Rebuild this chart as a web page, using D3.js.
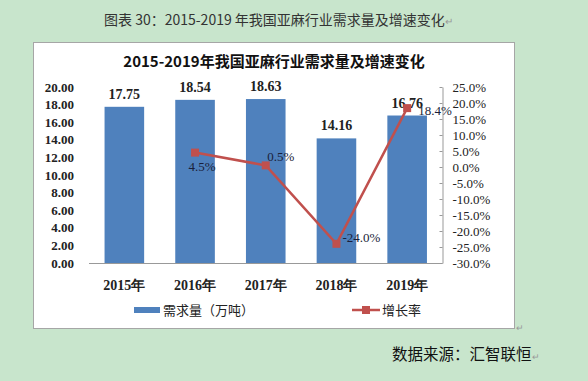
<!DOCTYPE html>
<html>
<head>
<meta charset="utf-8">
<script src="https://cdn.jsdelivr.net/npm/d3@7"></script>
<style>
  body { margin: 0; background: #c8e5cc; }
  svg { display: block; }
</style>
</head>
<body>
<div id="chart"></div>
<script>
// data
var years = ["2015年", "2016年", "2017年", "2018年", "2019年"];
var demand = [17.75, 18.54, 18.63, 14.16, 16.76];
var growth = [null, 4.5, 0.5, -24.0, 18.4];
var growthLabels = ["", "4.5%", "0.5%", "-24.0%", "18.4%"];
var leftTicks = [0, 2, 4, 6, 8, 10, 12, 14, 16, 18, 20];
var rightTicks = [-30, -25, -20, -15, -10, -5, 0, 5, 10, 15, 20, 25];

var width = 588, height = 381;
var plot = {left: 89, right: 442.5, top: 87, bottom: 263};
var serif = "'Liberation Serif', 'Times New Roman', serif";
var cjk = "'Noto Sans CJK SC', 'Noto Sans', sans-serif";

var svg = d3.select("#chart").append("svg")
    .attr("width", width).attr("height", height);

svg.append("rect").attr("width", width).attr("height", height).attr("fill", "#c8e5cc");

// caption above the chart box
svg.append("text")
    .attr("x", 104).attr("y", 25)
    .style("font-family", cjk).style("font-size", "14px").style("white-space", "pre")
    .attr("fill", "#333")
    .text("图表 30：2015-2019 年我国亚麻行业需求量及增速变化")
  .append("tspan").attr("fill", "#999").style("font-size", "10px").text("↵");

// white chart box
svg.append("rect")
    .attr("x", 33.5).attr("y", 42.5).attr("width", 481).attr("height", 286)
    .attr("fill", "#fff").attr("stroke", "#a6a6a6");

svg.append("text")
    .attr("x", 274).attr("y", 67).attr("text-anchor", "middle")
    .style("font-family", cjk).style("font-size", "15px").style("font-weight", "bold")
    .attr("fill", "#111")
    .text("2015-2019年我国亚麻行业需求量及增速变化");

// scales
var x = d3.scaleBand().domain(years)
    .range([plot.left, plot.right])
    .paddingInner(0.44).paddingOuter(0.22);
var yLeft = d3.scaleLinear().domain([0, 20]).range([plot.bottom, plot.top]);
var yRight = d3.scaleLinear().domain([-30, 25]).range([plot.bottom, plot.top]);

// left axis (labels only)
var la = svg.append("g")
    .attr("transform", "translate(" + (plot.left - 15) + ",0)")
    .call(d3.axisLeft(yLeft).tickValues(leftTicks).tickFormat(d3.format(".2f")).tickSize(0));
la.select(".domain").remove();
la.selectAll("text")
    .style("font-family", serif).style("font-size", "13px").style("font-weight", "bold")
    .attr("fill", "#222").attr("x", 0);

// right axis
var ra = svg.append("g")
    .attr("transform", "translate(" + plot.right + ",0)")
    .call(d3.axisRight(yRight).tickValues(rightTicks)
        .tickFormat(function(d) { return d.toFixed(1) + "%"; }).tickSize(0).tickPadding(10));
ra.select(".domain").attr("stroke", "#999");
ra.selectAll(".tick line").attr("x1", -3).attr("x2", 0).attr("stroke", "#999");
ra.selectAll("text")
    .style("font-family", serif).style("font-size", "13px").attr("fill", "#222");

// bars
svg.selectAll(".bar").data(demand).enter().append("rect")
    .attr("class", "bar")
    .attr("x", function(d, i) { return x(years[i]); })
    .attr("y", function(d) { return yLeft(d); })
    .attr("width", x.bandwidth())
    .attr("height", function(d) { return plot.bottom - yLeft(d); })
    .attr("fill", "#4f81bd");

// baseline
svg.append("line")
    .attr("x1", plot.left).attr("x2", plot.right)
    .attr("y1", plot.bottom + 0.5).attr("y2", plot.bottom + 0.5)
    .attr("stroke", "#999");

// bar value labels
svg.selectAll(".vlab").data(demand).enter().append("text")
    .attr("x", function(d, i) { return x(years[i]) + x.bandwidth() / 2; })
    .attr("y", function(d) { return yLeft(d) - 8; })
    .attr("text-anchor", "middle")
    .style("font-family", serif).style("font-size", "14px").style("font-weight", "bold")
    .attr("fill", "#222")
    .text(function(d) { return d.toFixed(2); });

// growth line
var pts = growth.map(function(g, i) { return {g: g, i: i}; })
    .filter(function(p) { return p.g !== null; });
var line = d3.line()
    .x(function(p) { return x(years[p.i]) + x.bandwidth() / 2; })
    .y(function(p) { return yRight(p.g); });
svg.append("path").datum(pts)
    .attr("d", line).attr("fill", "none")
    .attr("stroke", "#c0504d").attr("stroke-width", 2.5);
svg.selectAll(".mk").data(pts).enter().append("rect")
    .attr("x", function(p) { return x(years[p.i]) + x.bandwidth() / 2 - 4; })
    .attr("y", function(p) { return yRight(p.g) - 4; })
    .attr("width", 8).attr("height", 8)
    .attr("fill", "#c0504d");

// growth labels (offsets as Excel placed them)
var off = {1: [7, 14], 2: [15, -9], 3: [25, -6], 4: [28, 2]};
svg.selectAll(".glab").data(pts).enter().append("text")
    .attr("x", function(p) { return x(years[p.i]) + x.bandwidth() / 2 + off[p.i][0]; })
    .attr("y", function(p) { return yRight(p.g) + off[p.i][1]; })
    .attr("text-anchor", "middle").attr("dy", "0.35em")
    .style("font-family", serif).style("font-size", "13px")
    .attr("fill", "#1a1f3a")
    .text(function(p) { return growthLabels[p.i]; });

// x axis labels
var xa = svg.append("g")
    .attr("transform", "translate(0," + plot.bottom + ")")
    .call(d3.axisBottom(x).tickSize(0).tickPadding(17));
xa.select(".domain").remove();
xa.selectAll("text")
    .style("font-family", serif).style("font-size", "14px").style("font-weight", "bold")
    .attr("fill", "#222");

// legend
svg.append("rect").attr("x", 134).attr("y", 307).attr("width", 26).attr("height", 6).attr("fill", "#4f81bd");
svg.append("text").attr("x", 163).attr("y", 315)
    .style("font-family", cjk).style("font-size", "13px").attr("fill", "#222")
    .text("需求量（万吨）");
svg.append("line").attr("x1", 352).attr("x2", 380).attr("y1", 310).attr("y2", 310)
    .attr("stroke", "#c0504d").attr("stroke-width", 2.5);
svg.append("rect").attr("x", 362).attr("y", 306).attr("width", 8).attr("height", 8).attr("fill", "#c0504d");
svg.append("text").attr("x", 382).attr("y", 315)
    .style("font-family", cjk).style("font-size", "13px").attr("fill", "#222")
    .text("增长率");

// small return mark and source note
svg.append("text").attr("x", 516).attr("y", 331)
    .style("font-size", "9px").attr("fill", "#999").text("↵");
svg.append("text")
    .attr("x", 392).attr("y", 360)
    .style("font-family", cjk).style("font-size", "15.5px").attr("fill", "#111")
    .text("数据来源：汇智联恒")
  .append("tspan").attr("fill", "#999").style("font-size", "9px").text("↵");
</script>
</body>
</html>
